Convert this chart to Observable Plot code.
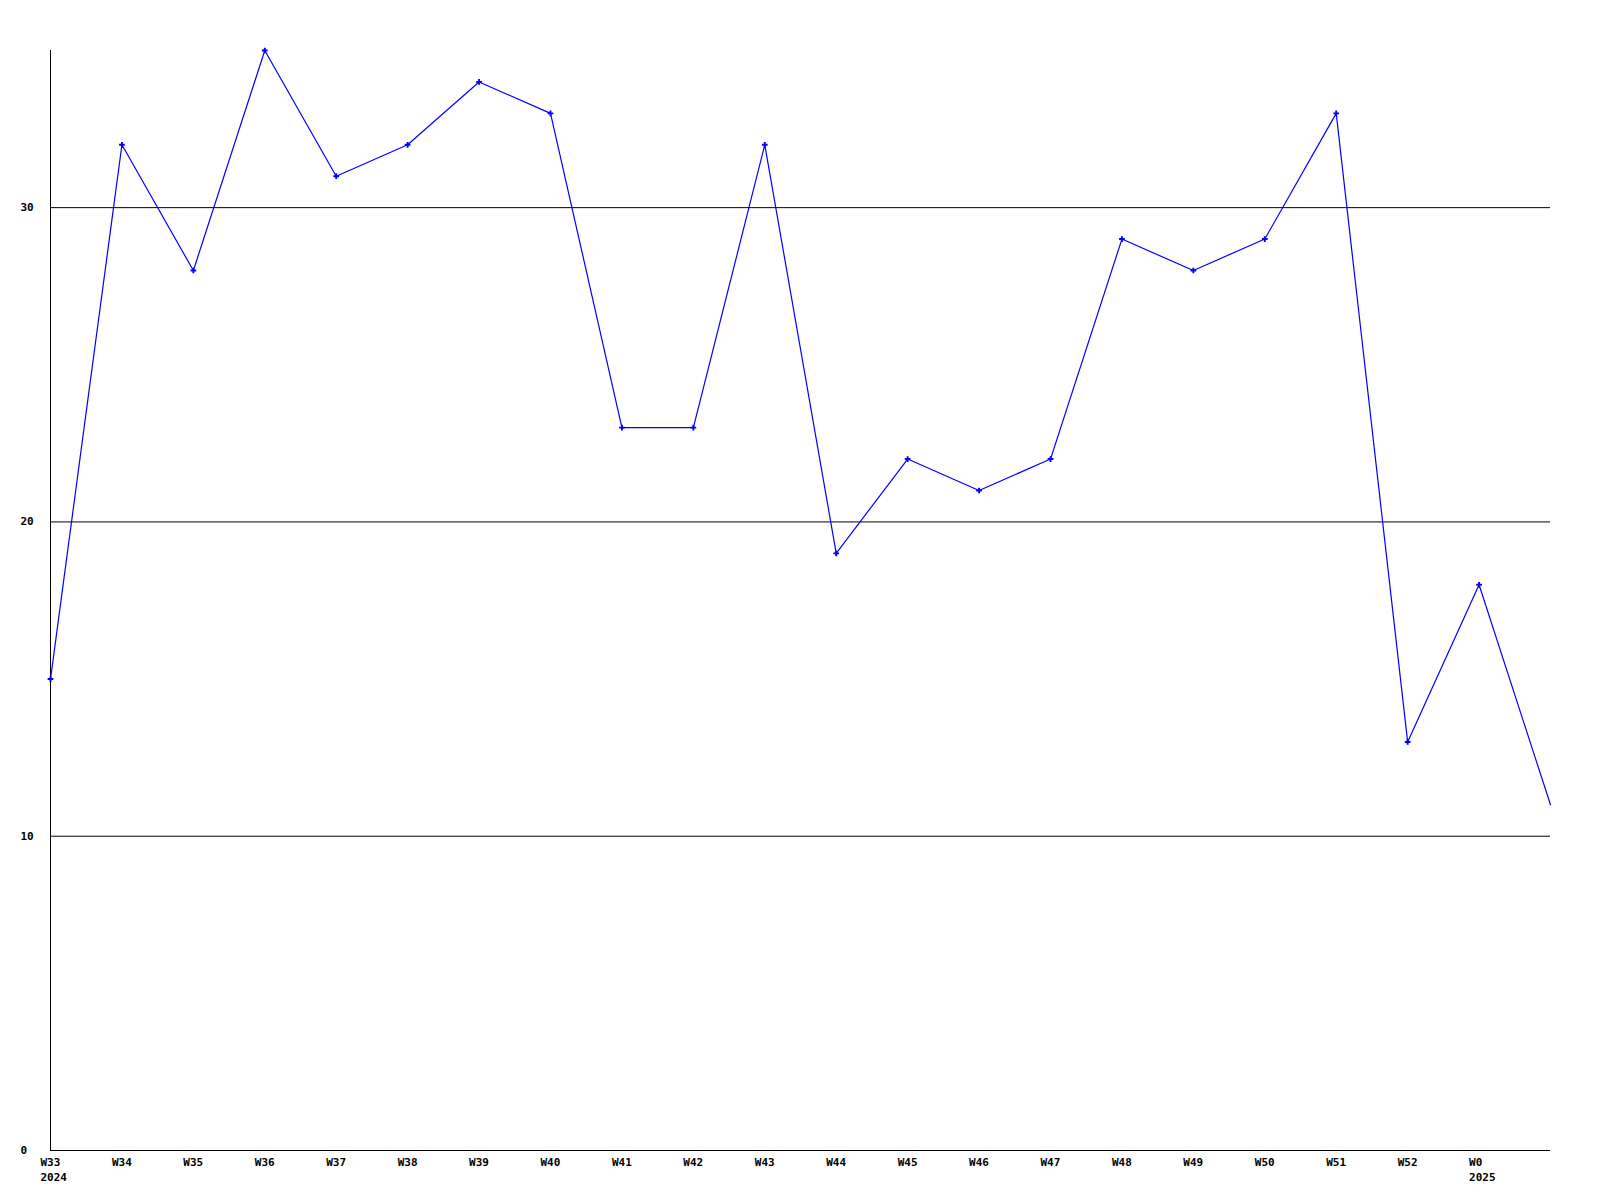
<!DOCTYPE html>
<html>
<head>
<meta charset="utf-8">
<script src="https://cdn.jsdelivr.net/npm/d3@7"></script>
<script src="https://cdn.jsdelivr.net/npm/@observablehq/plot@0.6"></script>
<style>
  html, body { margin: 0; padding: 0; background: #fff; }
</style>
</head>
<body>
<div id="chart"></div>
<script>
const weeks = ["W33","W34","W35","W36","W37","W38","W39","W40","W41","W42","W43","W44","W45","W46","W47","W48","W49","W50","W51","W52","W0",""];
const years = ["2024","","","","","","","","","","","","","","","","","","","","2025",""];
const values = [15,32,28,35,31,32,34,33,23,23,32,19,22,21,22,29,28,29,33,13,18,11];
const yTicks = [0,10,20,30];
const gridValues = [10,20,30];

const data = values.map((v, i) => ({i, v, week: weeks[i], year: years[i]}));
const tickIdx = data.filter(d => d.week !== "").map(d => d.i);

const chart = Plot.plot({
  width: 1600,
  height: 1200,
  marginLeft: 50,
  marginRight: 50,
  marginTop: 50,
  marginBottom: 50,
  style: {fontFamily: "'DejaVu Sans Mono', monospace", fontSize: "11px", fontWeight: "bold", background: "#fff", color: "#000"},
  x: {domain: [0, values.length - 1]},
  y: {domain: [0, 35]},
  marks: [
    Plot.ruleY(gridValues, {stroke: "#000", strokeWidth: 1}),
    Plot.ruleY([0], {stroke: "#000", strokeWidth: 1}),
    Plot.ruleX([0], {stroke: "#000", strokeWidth: 1}),
    Plot.axisY(yTicks, {anchor: "left", tickSize: 0, tickPadding: 0, textAnchor: "start", dx: -30, label: null, fill: "#000"}),
    Plot.axisX(tickIdx, {anchor: "bottom", tickSize: 0, tickPadding: 5, textAnchor: "start", dx: -10, lineHeight: 1.36, label: null, fill: "#000",
      tickFormat: i => years[i] ? weeks[i] + "\n" + years[i] : weeks[i]}),
    Plot.line(data, {x: "i", y: "v", stroke: "#0000ff", strokeWidth: 1.2}),
    Plot.dot(data.filter(d => d.week !== ""), {x: "i", y: "v", symbol: "cross", r: 2.4, fill: "#0000ff", stroke: "none"})
  ]
});
document.getElementById("chart").appendChild(chart);
</script>
</body>
</html>
